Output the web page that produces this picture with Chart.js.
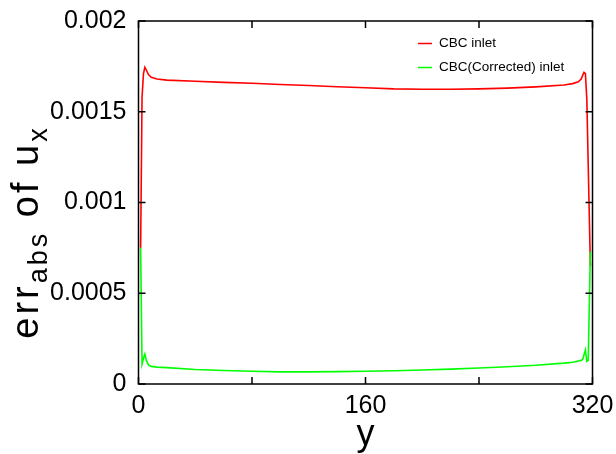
<!DOCTYPE html>
<html>
<head>
<meta charset="utf-8">
<script src="https://cdn.jsdelivr.net/npm/chart.js@4.4.1/dist/chart.umd.min.js"></script>
<style>
  html, body { margin: 0; padding: 0; background: #fff; }
  #wrap { width: 616px; height: 454px; }
</style>
</head>
<body>
<div id="wrap"><canvas id="err-graph" width="616" height="454"></canvas></div>
<script>
// y position across the channel
const yPos = [1.5, 2.5, 3.5, 4.5, 5.5, 7, 9, 13, 20, 40, 60, 80, 100, 120, 140, 160, 180, 200,
  220, 240, 260, 280, 300, 306, 310, 312, 313, 314, 315, 316, 317, 318.5]
// absolute error of u_x, CBC inlet
const cbcErr = [0.00075, 0.00158, 0.00171, 0.001745, 0.00173, 0.001705, 0.00169, 0.00168, 0.001674,
  0.001668, 0.001662, 0.001657, 0.00165, 0.001645, 0.001638, 0.001632, 0.001626, 0.001624,
  0.001624, 0.001626, 0.00163, 0.001637, 0.001647, 0.001655, 0.001665, 0.00168, 0.0017,
  0.001717, 0.00171, 0.00157, 0.0012, 0.00065]
// absolute error of u_x, corrected CBC inlet
const cbcCorrErr = [0.00075, 0.00011, 0.00014, 0.000165, 0.00013, 0.000105, 0.000097, 0.000093, 0.00009,
  0.00008, 0.000074, 0.00007, 0.000067, 0.000067, 0.000068, 0.00007, 0.000073, 0.000077,
  0.000082, 0.000088, 0.000095, 0.000103, 0.000115, 0.00012, 0.000127, 0.00013, 0.000135,
  0.00016, 0.000187, 0.000125, 0.00013, 0.00073]
const seriesNames = ['CBC inlet', 'CBC(Corrected) inlet']
const seriesColors = ['#ff0000', '#00ff00']
const xTickLabels = [0, 160, 320]
const yTickLabels = ['0', '0.0005', '0.001', '0.0015', '0.002']

const FONT = 'Arial, "Liberation Sans", sans-serif'

// box around the plot with inward ticks on all four sides
const framePlugin = {
  id: 'framePlugin',
  afterDatasetsDraw(chart) {
    const { ctx, chartArea: { left, top, right, bottom }, scales: { x, y } } = chart
    const len = 7
    ctx.save()
    ctx.strokeStyle = '#000'
    ctx.lineWidth = 1.5
    ctx.beginPath()
    x.ticks.forEach(t => {
      const px = x.getPixelForValue(t.value)
      ctx.moveTo(px, bottom); ctx.lineTo(px, bottom - len)
      ctx.moveTo(px, top); ctx.lineTo(px, top + len)
    })
    y.ticks.forEach(t => {
      const py = y.getPixelForValue(t.value)
      ctx.moveTo(left, py); ctx.lineTo(left + len, py)
      ctx.moveTo(right, py); ctx.lineTo(right - len, py)
    })
    ctx.stroke()
    ctx.strokeRect(left, top, right - left, bottom - top)
    ctx.restore()
  }
}

// legend inside the plot, top right, stacked
const legendPlugin = {
  id: 'legendPlugin',
  afterDraw(chart) {
    const { ctx, chartArea: { right, top } } = chart
    ctx.save()
    ctx.font = '13.5px ' + FONT
    ctx.textBaseline = 'middle'
    ctx.textAlign = 'left'
    chart.data.datasets.forEach((ds, i) => {
      const yy = top + 22.5 + i * 24
      ctx.strokeStyle = ds.borderColor
      ctx.lineWidth = 1.5
      ctx.beginPath()
      ctx.moveTo(right - 174.5, yy)
      ctx.lineTo(right - 160.5, yy)
      ctx.stroke()
      ctx.fillStyle = '#000'
      ctx.fillText(ds.label, right - 153.5, yy)
    })
    ctx.restore()
  }
}

// y axis title with subscripts: err_abs of u_x
const yTitlePlugin = {
  id: 'yTitlePlugin',
  afterDraw(chart) {
    const { ctx } = chart
    const parts = [
      { t: 'err', sub: false },
      { t: 'abs', sub: true },
      { t: ' of u', sub: false },
      { t: 'x', sub: true }
    ]
    const mainFont = '38px ' + FONT
    const subFont = '27px ' + FONT
    ctx.save()
    ctx.letterSpacing = '3px'
    let total = 0
    parts.forEach(p => {
      ctx.font = p.sub ? subFont : mainFont
      p.w = ctx.measureText(p.t).width
      total += p.w
    })
    ctx.translate(38, 232)
    ctx.rotate(-Math.PI / 2)
    ctx.fillStyle = '#000'
    ctx.textBaseline = 'alphabetic'
    let cx = -total / 2
    parts.forEach(p => {
      ctx.font = p.sub ? subFont : mainFont
      ctx.fillText(p.t, cx, p.sub ? 9 : 0)
      cx += p.w
    })
    ctx.restore()
  }
}

const ctx = document.getElementById('err-graph').getContext('2d')
new Chart(ctx, {
  type: 'line',
  data: {
    datasets: [
      {
        label: seriesNames[0],
        data: yPos.map((v, i) => ({ x: v, y: cbcErr[i] })),
        borderColor: seriesColors[0],
        borderWidth: 1.6,
        pointRadius: 0,
        fill: false,
        order: 1
      },
      {
        label: seriesNames[1],
        data: yPos.map((v, i) => ({ x: v, y: cbcCorrErr[i] })),
        borderColor: seriesColors[1],
        borderWidth: 1.6,
        pointRadius: 0,
        fill: false,
        order: 0
      }
    ]
  },
  options: {
    responsive: false,
    animation: false,
    layout: { padding: { left: 0, top: 21, right: 23.5, bottom: 0 } },
    plugins: {
      legend: { display: false },
      tooltip: { enabled: false }
    },
    scales: {
      x: {
        type: 'linear',
        min: 0,
        max: 320,
        grid: { display: false, drawTicks: false },
        border: { display: false },
        ticks: {
          stepSize: 80,
          autoSkip: false,
          maxRotation: 0,
          padding: 7,
          color: '#000',
          font: { family: FONT, size: 25 },
          callback: v => xTickLabels.includes(v) ? String(v) : ''
        },
        title: {
          display: true,
          text: 'y',
          color: '#000',
          font: { family: FONT, size: 36 },
          padding: { top: 0, bottom: -3 }
        },
        afterFit: s => {
          s.height = 70
          s.paddingLeft = 0
          s.paddingRight = 0
        }
      },
      y: {
        type: 'linear',
        min: 0,
        max: 0.002,
        grid: { display: false, drawTicks: false },
        border: { display: false },
        ticks: {
          stepSize: 0.0005,
          padding: 12,
          color: '#000',
          font: { family: FONT, size: 25 },
          callback: (v, i) => yTickLabels[i]
        },
        afterFit: s => {
          s.width = 138.5
          s.paddingTop = 0
          s.paddingBottom = 0
        }
      }
    }
  },
  plugins: [framePlugin, legendPlugin, yTitlePlugin]
})
</script>
</body>
</html>
